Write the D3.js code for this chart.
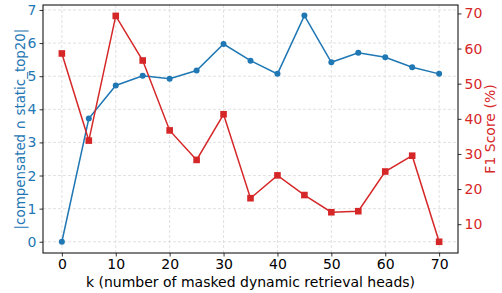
<!DOCTYPE html>
<html>
<head>
<meta charset="utf-8">
<script src="https://d3js.org/d3.v7.min.js"></script>
<style>
  body { margin: 0; background: #fff; }
  text { font-family: "DejaVu Sans", sans-serif; }
</style>
</head>
<body>
<div id="chart"></div>
<script>
// data
var kValues = [0, 5, 10, 15, 20, 25, 30, 35, 40, 45, 50, 55, 60, 65, 70];
var compensated = [0, 3.72, 4.72, 5.01, 4.92, 5.17, 5.97, 5.47, 5.07, 6.83, 5.42, 5.71, 5.57, 5.27, 5.07];
var f1Score = [58.6, 33.8, 69.3, 56.6, 36.7, 28.3, 41.3, 17.4, 23.9, 18.3, 13.4, 13.7, 25.0, 29.5, 5.0];
var xTicks = [0, 10, 20, 30, 40, 50, 60, 70];
var leftTicks = [0, 1, 2, 3, 4, 5, 6, 7];
var rightTicks = [10, 20, 30, 40, 50, 60, 70];

var W = 502, H = 293;
var pLeft = 43, pRight = 458, pTop = 5, pBottom = 253;
var blue = "#1f77b4", red = "#d62728";

var svg = d3.select("#chart").append("svg")
  .attr("width", W).attr("height", H);

var x = d3.scaleLinear().domain([-3.5, 73.5]).range([pLeft, pRight]);
var yL = d3.scaleLinear().domain([-0.34, 7.15]).range([pBottom, pTop]);
var yR = d3.scaleLinear().domain([1.8, 72.4]).range([pBottom, pTop]);

// grid
var grid = svg.append("g").attr("stroke", "#d9d9d9").attr("stroke-width", 0.8)
  .attr("stroke-dasharray", "3,2");
grid.selectAll(".gx").data(xTicks).enter().append("line")
  .attr("x1", d => x(d)).attr("x2", d => x(d))
  .attr("y1", pTop).attr("y2", pBottom);
grid.selectAll(".gy").data(leftTicks).enter().append("line")
  .attr("x1", pLeft).attr("x2", pRight)
  .attr("y1", d => yL(d)).attr("y2", d => yL(d));

// axes
var fs = "14px";
var ax = svg.append("g").attr("transform", "translate(0," + pBottom + ")")
  .call(d3.axisBottom(x).tickValues(xTicks).tickSize(3.5).tickPadding(3));
ax.selectAll("text").attr("fill", "#000").style("font-size", fs);

var al = svg.append("g").attr("transform", "translate(" + pLeft + ",0)")
  .call(d3.axisLeft(yL).tickValues(leftTicks).tickSize(3.5).tickPadding(3));
al.selectAll("text").attr("fill", blue).style("font-size", fs);

var ar = svg.append("g").attr("transform", "translate(" + pRight + ",0)")
  .call(d3.axisRight(yR).tickValues(rightTicks).tickSize(3.5).tickPadding(3));
ar.selectAll("text").attr("fill", red).style("font-size", fs);

[ax, al, ar].forEach(g => {
  g.select(".domain").remove();
  g.selectAll("line").attr("stroke", "#000").attr("stroke-width", 0.8);
});

// frame
svg.append("rect").attr("x", pLeft).attr("y", pTop)
  .attr("width", pRight - pLeft).attr("height", pBottom - pTop)
  .attr("fill", "none").attr("stroke", "#000").attr("stroke-width", 1);

// series
var pts = kValues.map((k, i) => ({k: k, c: compensated[i], f: f1Score[i]}));

svg.append("path").datum(pts)
  .attr("fill", "none").attr("stroke", blue).attr("stroke-width", 1.5)
  .attr("d", d3.line().x(d => x(d.k)).y(d => yL(d.c)));
svg.selectAll(".dot").data(pts).enter().append("circle")
  .attr("cx", d => x(d.k)).attr("cy", d => yL(d.c)).attr("r", 3)
  .attr("fill", blue);

svg.append("path").datum(pts)
  .attr("fill", "none").attr("stroke", red).attr("stroke-width", 1.5)
  .attr("d", d3.line().x(d => x(d.k)).y(d => yR(d.f)));
svg.selectAll(".sq").data(pts).enter().append("rect")
  .attr("x", d => x(d.k) - 3.3).attr("y", d => yR(d.f) - 3.3)
  .attr("width", 6.6).attr("height", 6.6)
  .attr("fill", red);

// labels
svg.append("text").attr("x", (pLeft + pRight) / 2).attr("y", 287)
  .attr("text-anchor", "middle").style("font-size", fs).attr("fill", "#000")
  .text("k (number of masked dynamic retrieval heads)");

svg.append("text").attr("transform", "translate(25," + (pTop + pBottom) / 2 + ") rotate(-90)")
  .attr("text-anchor", "middle").style("font-size", "13.4px").attr("fill", blue)
  .text("|compensated \u2229 static_top20|");

svg.append("text").attr("transform", "translate(495," + (pTop + pBottom) / 2 + ") rotate(-90)")
  .attr("text-anchor", "middle").style("font-size", fs).attr("fill", red)
  .text("F1 Score (%)");
</script>
</body>
</html>
